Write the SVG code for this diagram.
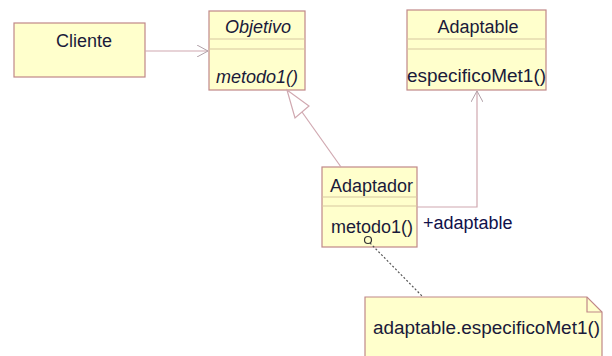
<svg xmlns="http://www.w3.org/2000/svg" width="612" height="356" viewBox="0 0 612 356">
<style>
.box{fill:#FFFFCC;stroke:#C08888;stroke-width:1.2}
.sep{stroke:#D8C8A0;stroke-width:1.2}
.t{font-family:"Liberation Sans",Arial,sans-serif;font-size:18px;fill:#1a1a3a}
.i{font-style:italic}
.c{stroke:#D0A8B0;stroke-width:1.2;fill:none}
</style>
<defs>
<marker id="open" viewBox="0 0 12 12" refX="11" refY="6" markerWidth="12" markerHeight="12" markerUnits="userSpaceOnUse" orient="auto">
<path d="M0,0 L11,6 L0,12" fill="none" stroke="#B0A0A8" stroke-width="1"/>
</marker>
</defs>
<rect width="612" height="356" fill="#FFFFFF"/>
<g id="cliente">
<rect class="box" x="14" y="23" width="131" height="54"/>
<text class="t" x="84" y="47" text-anchor="middle">Cliente</text>
</g>
<g id="objetivo">
<rect class="box" x="209" y="11" width="96" height="79"/>
<line class="sep" x1="209" y1="39" x2="305" y2="39"/>
<line class="sep" x1="209" y1="49" x2="305" y2="49"/>
<text class="t i" x="258" y="33" text-anchor="middle">Objetivo</text>
<text class="t i" x="216" y="83">metodo1()</text>
</g>
<g id="adaptable">
<rect class="box" x="407" y="10" width="139" height="80"/>
<line class="sep" x1="407" y1="39" x2="546" y2="39"/>
<line class="sep" x1="407" y1="49" x2="546" y2="49"/>
<text class="t" x="478" y="33" text-anchor="middle">Adaptable</text>
<text class="t" x="407" y="82" textLength="139" lengthAdjust="spacingAndGlyphs">especificoMet1()</text>
</g>
<g id="adaptador">
<rect class="box" x="322" y="167" width="95" height="80"/>
<line class="sep" x1="322" y1="197" x2="417" y2="197"/>
<line class="sep" x1="322" y1="206" x2="417" y2="206"/>
<text class="t" x="330" y="192">Adaptador</text>
<text class="t" x="331" y="233">metodo1()</text>
</g>
<g id="nota">
<path class="box" d="M365,297 L587,297 L602,312 L602,360 L365,360 Z"/>
<path d="M587,297 L587,312 L602,312" fill="none" stroke="#C08888" stroke-width="1.2"/>
<text class="t" x="373" y="334" textLength="227" lengthAdjust="spacingAndGlyphs">adaptable.especificoMet1()</text>
</g>
<g id="connectors">
<line class="c" x1="145" y1="51" x2="208" y2="51" marker-end="url(#open)"/>
<line class="c" x1="341" y1="167" x2="302" y2="112"/>
<polygon points="287,90 295,118 309,106" fill="#FFFFFF" stroke="#D0A8B0" stroke-width="1.2"/>
<polyline class="c" points="417,207 477,207 477,91" marker-end="url(#open)"/>
<text class="t" x="423" y="229" style="fill:#10104a">+adaptable</text>
<line x1="370" y1="243" x2="423" y2="297" stroke="#555555" stroke-width="1.2" stroke-dasharray="2,2"/>
<circle cx="368" cy="240" r="3.5" fill="#FFFFCC" stroke="#333333" stroke-width="1.2"/>
</g>
</svg>
